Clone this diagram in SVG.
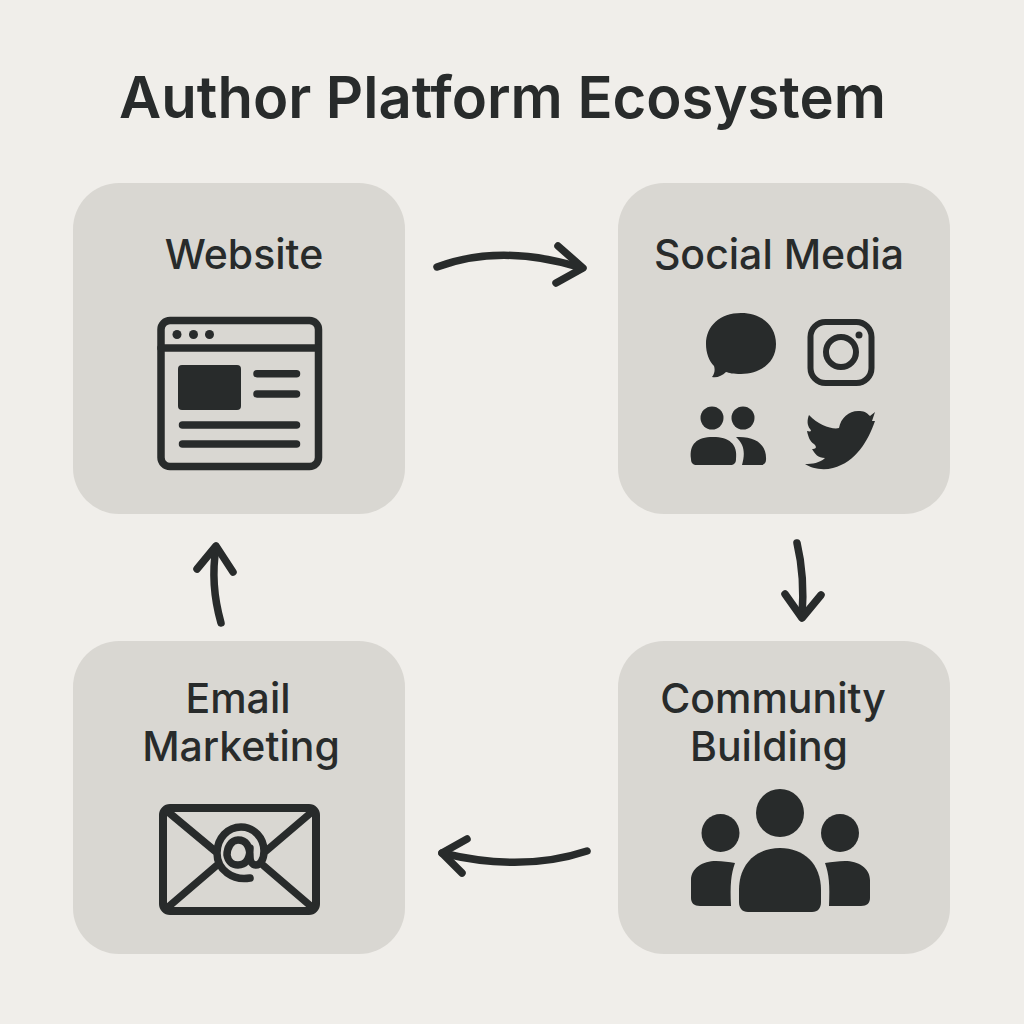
<svg xmlns="http://www.w3.org/2000/svg" width="1024" height="1024" viewBox="0 0 1024 1024">
<style>
.card{fill:#d9d7d2}
.t{font-family:"Inter","Liberation Sans",sans-serif;fill:#282b2b;text-anchor:middle}
.l{font-size:41px;font-weight:500}
.f{fill:#282b2b}
.s{fill:none;stroke:#282b2b;stroke-linecap:round;stroke-linejoin:round}
</style>
<rect width="1024" height="1024" fill="#f0eeea"/>
<text id="title" class="t" x="502.500" y="118" font-size="58" font-weight="600">Author Platform Ecosystem</text>
<g id="website">
<rect class="card" x="73" y="183" width="332" height="331" rx="46"/>
<text class="t l" x="244" y="269">Website</text>
<rect class="s" x="161" y="320.500" width="157.500" height="146" rx="9" stroke-width="7.500"/>
<path class="s" d="M161 348H318" stroke-width="7.500"/>
<circle class="f" cx="177" cy="334.500" r="4.500"/><circle class="f" cx="193.500" cy="334.500" r="4.500"/><circle class="f" cx="209.500" cy="334.500" r="4.500"/>
<rect class="f" x="178" y="365" width="63" height="45" rx="4"/>
<path class="s" d="M257 373.700H296.500M257 394H296.500M182.500 425H296.500M182.500 444H296.500" stroke-width="7.500"/>
</g>
<g id="social-media">
<rect class="card" x="618" y="183" width="332" height="331" rx="46"/>
<text class="t l" x="779" y="269">Social Media</text>
<path class="f" d="M741 313C762 313 776 326 776 344C776 362 761 374 741 374C733 374 729 373 726 372C722 376 717 378 712 377C715 373 715 369 714 366C709 361 706 353 706 344C706 326 720 313 741 313Z"/>
<rect class="s" x="810.500" y="322" width="61" height="61" rx="15" stroke-width="6"/>
<circle class="s" cx="841" cy="352" r="15" stroke-width="6"/>
<circle class="f" cx="859" cy="335" r="3.500"/>
<circle class="f" cx="712" cy="418" r="11.500"/><circle class="f" cx="743" cy="418" r="11.500"/>
<path class="f" d="M691 459C689 444 697 437 713 437C729 437 738 444 736 459C736 463 734 465 730 465H697C693 465 691 463 691 459Z"/>
<path class="f" d="M736 437C755 436 767 444 766 460C766 463 764 465 761 465H742C745 454 745 445 736 437Z"/>
<path class="f" d="M809 415C818 425 833 430 839 428C841 417 850 410 860 411C865 411 868 414 870 416L875 412L872 421L875 421C868 441 856 462 833 468C822 471 811 468 805 464C812 464 820 463 825 458C818 458 815 454 812 449C815 449 818 448 814 444C810 442 808 436 807 431C811 432 812 431 810 429C807 425 807 420 809 415Z"/>
</g>
<g id="community-building">
<rect class="card" x="618" y="641" width="332" height="313" rx="46"/>
<text class="t l" x="773" y="713">Community</text>
<text class="t l" x="769" y="761">Building</text>
<circle class="f" cx="780" cy="813" r="24"/><circle class="f" cx="720.500" cy="833" r="19"/><circle class="f" cx="840" cy="833" r="19"/>
<path class="f" d="M739 890C739 864 756 848 780 848C804 848 821 864 821 890V902C821 908 818 912 812 912H748C742 912 739 908 739 902Z"/>
<path class="f" d="M691 880C691 868 703 861 716 861C723 861 729 862 735 863C731 874 730 885 731 906H700C694 906 691 903 691 898Z"/>
<path class="f" d="M870 880C870 868 858 861 845 861C838 861 832 862 825 863C829 874 830 885 829 906H861C867 906 870 903 870 898Z"/>
</g>
<g id="email-marketing">
<rect class="card" x="73" y="641" width="332" height="313" rx="46"/>
<text class="t l" x="238" y="713">Email</text>
<text class="t l" x="241" y="761">Marketing</text>
<rect class="s" x="163" y="808" width="153" height="103" rx="7" stroke-width="8"/>
<path class="s" d="M167 811L215 851M313 811L266 851M167 908L216 866M313 908L264 866" stroke-width="7.500"/>
<path class="s" d="M250 878C233 881 217 870 217 853C217 838 228 827 241 827C254 827 264 838 264 851C264 860 260 865 256 865C252 865 250 861 250 857M250 857C250 846 246 840 238 840C231 840 227 848 227 855C228 861 232 865 238 865C245 865 250 860 250 848" stroke-width="7.500"/>
</g>
<g id="connectors" class="s" stroke-width="7.500">
<path d="M437 267C480 251 530 252 582 268"/><path d="M558 246L583 268L556 283"/>
<path d="M797 543C803 568 804 590 802 617"/><path d="M785 594L802 618L821 595"/>
<path d="M587 851C545 865 495 866 442 853"/><path d="M467 839L442 853L462 873"/>
<path d="M221 623C214 598 212 572 216 548"/><path d="M197 569L216 546L233 572"/>
</g>
</svg>
